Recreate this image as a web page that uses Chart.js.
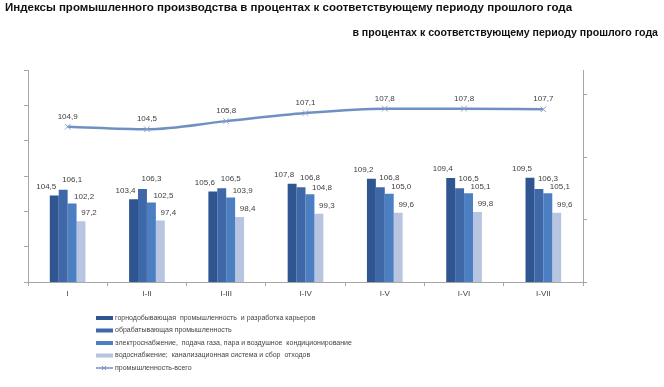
<!DOCTYPE html>
<html>
<head>
<meta charset="utf-8">
<script src="https://cdn.jsdelivr.net/npm/chart.js@4.4.1/dist/chart.umd.min.js"></script>
<style>
  html, body { margin: 0; padding: 0; background: #fff; }
  #wrap { width: 664px; height: 387px; position: relative; }
</style>
</head>
<body>
<div id="wrap"><canvas id="myChart" width="664" height="387"></canvas></div>
<script>
// периоды
let Periodos = ['I', 'I-II', 'I-III', 'I-IV', 'I-V', 'I-VI', 'I-VII'];
// горнодобывающая
let Mineria = [104.5, 103.4, 105.6, 107.8, 109.2, 109.4, 109.5];
// обрабатывающая
let Manufactura = [106.1, 106.3, 106.5, 106.8, 106.8, 106.5, 106.3];
// электроснабжение
let Electricidad = [102.2, 102.5, 103.9, 104.8, 105.0, 105.1, 105.1];
// водоснабжение
let Agua = [97.2, 97.4, 98.4, 99.3, 99.6, 99.8, 99.6];
// промышленность-всего
let Total = [104.9, 104.5, 105.8, 107.1, 107.8, 107.8, 107.7];

let Titulo = 'Индексы промышленного производства в процентах к соответствующему периоду прошлого года';
let Subtitulo = 'в процентах к соответствующему периоду прошлого года';
let Nombres = [
    'горнодобывающая  промышленность  и разработка карьеров',
    'обрабатывающая промышленность',
    'электроснабжение,  подача газа, пара и воздушное  кондиционирование',
    'водоснабжение;  канализационная система и сбор  отходов',
    'промышленность-всего'
];

var FONT = "'Liberation Sans', Arial, sans-serif";
var AXIS = '#a6a6a6';

// смещения подписей над столбцами (как в оригинале)
var dxBar = [-8, 9, 12, 8];
var dyBar = [-9, -10, -7, -8];

function fmt(v) {
    return v.toFixed(1).replace('.', ',');
}

const etiquetas = {
    id: 'etiquetas',
    afterDatasetsDraw(chart) {
        const ctx = chart.ctx;
        ctx.save();
        ctx.font = '8px ' + FONT;
        ctx.fillStyle = '#404040';
        ctx.textAlign = 'center';
        ctx.textBaseline = 'middle';
        chart.data.datasets.forEach(function (ds, i) {
            const meta = chart.getDatasetMeta(i);
            meta.data.forEach(function (el, j) {
                if (ds.type === 'line') {
                    ctx.fillText(fmt(ds.data[j]), el.x, el.y - 10);
                } else {
                    ctx.fillText(fmt(ds.data[j]), el.x + dxBar[i], el.y + dyBar[i]);
                }
            });
        });
        ctx.restore();
    }
};

const textos = {
    id: 'textos',
    afterDraw(chart) {
        const ctx = chart.ctx;
        ctx.save();
        ctx.fillStyle = '#111';
        ctx.textBaseline = 'middle';
        ctx.font = 'bold 11.5px ' + FONT;
        ctx.textAlign = 'left';
        ctx.fillText(Titulo, 5, 8);
        ctx.font = 'bold 10.6px ' + FONT;
        ctx.textAlign = 'right';
        ctx.fillText(Subtitulo, 658, 33);

        // легенда
        ctx.font = '7px ' + FONT;
        ctx.textAlign = 'left';
        var y0 = 318;
        chart.data.datasets.forEach(function (ds, i) {
            var y = y0 + i * 12.5;
            if (ds.type === 'line') {
                ctx.strokeStyle = ds.borderColor;
                ctx.lineWidth = 1.5;
                ctx.beginPath();
                ctx.moveTo(96, y);
                ctx.lineTo(113, y);
                ctx.stroke();
                ctx.lineWidth = 1;
                ctx.beginPath();
                ctx.moveTo(102, y - 2); ctx.lineTo(106, y + 2);
                ctx.moveTo(102, y + 2); ctx.lineTo(106, y - 2);
                ctx.stroke();
            } else {
                ctx.fillStyle = ds.backgroundColor;
                ctx.fillRect(96, y - 2, 17, 4);
            }
            ctx.fillStyle = '#444';
            ctx.fillText(ds.label, 115, y);
        });
        ctx.restore();
    }
};

var myChart = new Chart(document.getElementById('myChart'), {
    data: {
        labels: Periodos,
        datasets: [
            { type: 'bar', label: Nombres[0], data: Mineria, backgroundColor: '#2f5690', yAxisID: 'y', order: 2 },
            { type: 'bar', label: Nombres[1], data: Manufactura, backgroundColor: '#3e68a7', yAxisID: 'y', order: 2 },
            { type: 'bar', label: Nombres[2], data: Electricidad, backgroundColor: '#4b7fc2', yAxisID: 'y', order: 2 },
            { type: 'bar', label: Nombres[3], data: Agua, backgroundColor: '#b7c5e0', yAxisID: 'y', order: 2 },
            {
                type: 'line', label: Nombres[4], data: Total, yAxisID: 'y1', order: 1,
                borderColor: '#7090c4', borderWidth: 2.5, tension: 0.4, cubicInterpolationMode: 'monotone',
                pointStyle: 'crossRot', pointRadius: 4, pointBorderColor: '#8aa3cf', pointBorderWidth: 1,
                fill: false
            }
        ]
    },
    options: {
        responsive: false,
        animation: false,
        devicePixelRatio: 1,
        layout: { padding: { top: 70, left: 0, right: 0, bottom: 0 } },
        datasets: {
            bar: { categoryPercentage: 0.45, barPercentage: 1 }
        },
        plugins: {
            legend: { display: false },
            tooltip: { enabled: false }
        },
        scales: {
            x: {
                offset: true,
                grid: { display: true, offset: true, drawOnChartArea: false, tickLength: 4, color: AXIS },
                border: { color: AXIS },
                ticks: { font: { size: 8, family: FONT }, color: '#404040', padding: 3 },
                afterFit: function (s) { s.height = 105; }
            },
            y: {
                position: 'left',
                min: 80, max: 140,
                ticks: { display: false, stepSize: 10 },
                grid: { drawOnChartArea: false, tickLength: 4, color: AXIS },
                border: { color: AXIS },
                afterFit: function (s) { s.width = 28; }
            },
            y1: {
                position: 'right',
                min: 80, max: 114,
                ticks: { display: false },
                afterBuildTicks: function (s) {
                    s.ticks = [80, 90, 100, 110].map(function (v) { return { value: v }; });
                },
                grid: { drawOnChartArea: false, tickLength: 4, color: AXIS },
                border: { color: AXIS },
                afterFit: function (s) { s.width = 81; }
            }
        }
    },
    plugins: [etiquetas, textos]
});
</script>
</body>
</html>
